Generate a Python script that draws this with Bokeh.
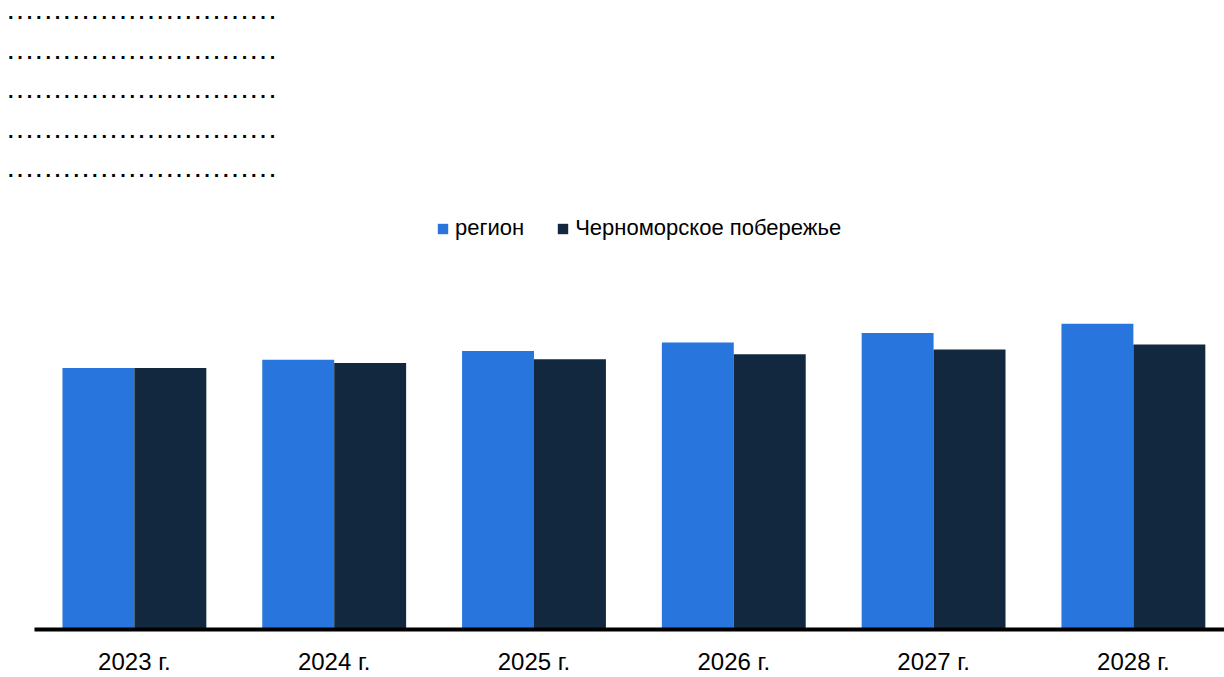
from bokeh.plotting import figure
from bokeh.models import ColumnDataSource, Range1d, FixedTicker, Legend, LegendItem, Div
from bokeh.layouts import column
from bokeh.transform import dodge
from bokeh.embed import file_html
from bokeh.resources import INLINE

# ---- data ----
years = ["2023 г.", "2024 г.", "2025 г.", "2026 г.", "2027 г.", "2028 г."]
region = [100.0, 103.2, 106.5, 109.8, 113.4, 116.9]
coast = [100.0, 101.9, 103.4, 105.3, 107.1, 109.0]
series_names = ["регион", "Черноморское побережье"]
header_lines = ["." * 29] * 5

BLUE = "#2876dd"
NAVY = "#12283e"
FONT = "Liberation Sans"

line_tops = [0.9, 40.9, 80.3, 120.3, 159.3]
inner = "".join(
    f'<div style="position:absolute;left:8px;top:{t}px;line-height:22px;white-space:pre;'
    f'letter-spacing:3.79px;">{txt}</div>'
    for txt, t in zip(header_lines, line_tops))
header = Div(text=f'<div style="position:relative;width:1224px;height:190px;'
                  f"font-family:'Liberation Sans',Arial,sans-serif;font-size:20px;"
                  f'font-weight:bold;color:black;">{inner}</div>',
             width=1224, height=190, styles={"margin": "0", "padding": "0"})

src = ColumnDataSource(dict(x=list(range(len(years))), region=region, coast=coast))

p = figure(width=1224, height=487, output_backend="svg", toolbar_location=None,
           x_range=Range1d(-0.5, 5.456), y_range=Range1d(0, 167.9),
           min_border_left=34, min_border_right=0, min_border_top=0, min_border_bottom=47)
p.outline_line_color = None
p.grid.visible = False
p.yaxis.visible = False

r1 = p.vbar(x=dodge("x", -0.18, range=p.x_range), top="region", width=0.36,
            source=src, fill_color=BLUE, line_color=None)
r2 = p.vbar(x=dodge("x", 0.18, range=p.x_range), top="coast", width=0.36,
            source=src, fill_color=NAVY, line_color=None)

ax = p.xaxis[0]
ax.ticker = FixedTicker(ticks=list(range(len(years))))
ax.major_label_overrides = {i: y for i, y in enumerate(years)}
ax.major_tick_line_color = None
ax.major_tick_out = 0
ax.major_tick_in = 0
ax.minor_tick_line_color = None
ax.minor_tick_out = 0
ax.axis_line_color = "black"
ax.axis_line_width = 4
ax.major_label_text_font = FONT
ax.major_label_text_font_size = "24px"
ax.major_label_text_color = "black"
ax.major_label_standoff = 18

legend = Legend(items=[LegendItem(label=series_names[0], renderers=[r1]),
                       LegendItem(label=series_names[1], renderers=[r2])],
                orientation="horizontal", location=(402, 388),
                glyph_width=13, glyph_height=13, label_standoff=6, spacing=32,
                padding=0, margin=0, border_line_color=None, background_fill_alpha=0,
                label_text_font=FONT, label_text_font_size="22px", label_text_color="black")
p.add_layout(legend, "center")

layout = column(header, p, spacing=0)
open("out.html", "w").write(file_html(layout, INLINE))
